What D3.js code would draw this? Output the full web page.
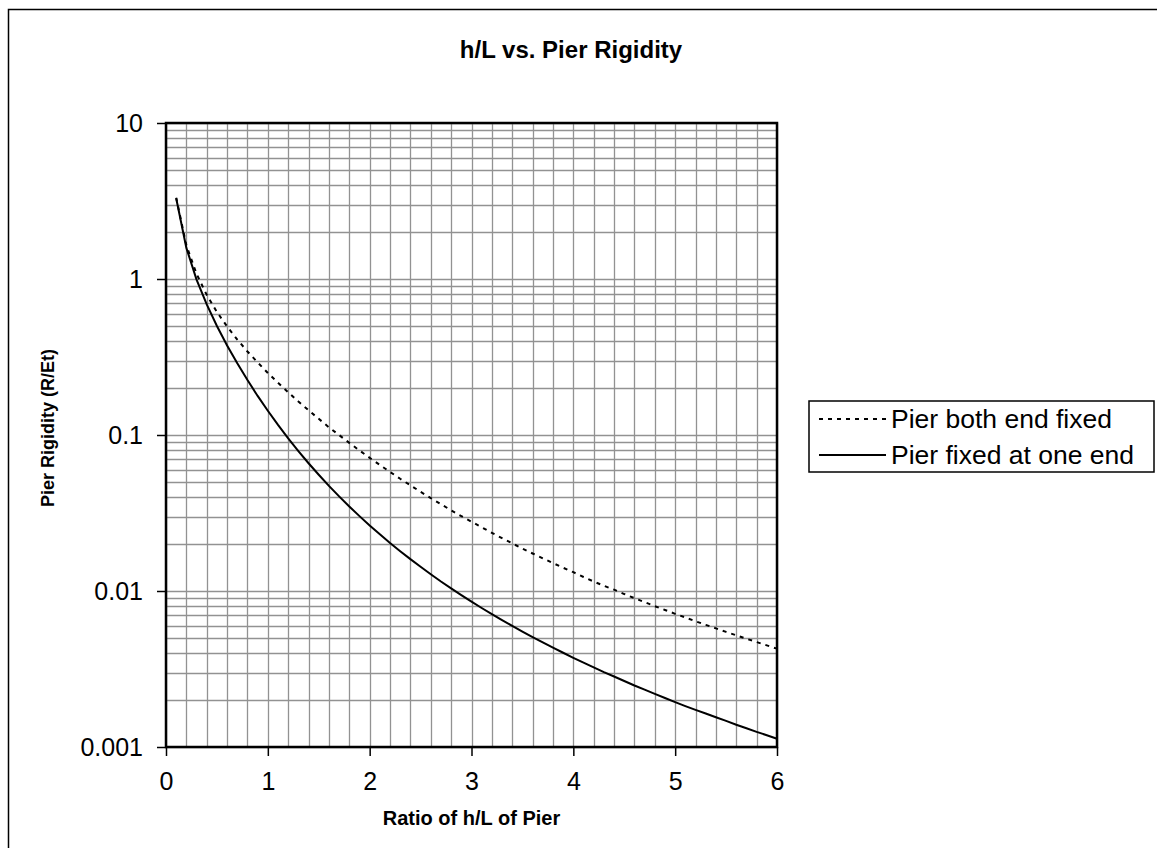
<!DOCTYPE html>
<html>
<head>
<meta charset="utf-8">
<script src="https://cdn.jsdelivr.net/npm/d3@7"></script>
<style>
  body { margin: 0; background: #fff; }
  text { font-family: "Liberation Sans", Arial, sans-serif; fill: #000; }
</style>
</head>
<body>
<div id="chart"></div>
<script>
// h/L of the pier
var ratio = [0.1, 0.2, 0.3, 0.4, 0.5, 0.6, 0.7, 0.8, 0.9, 1.0,
             1.1, 1.2, 1.3, 1.4, 1.5, 1.6, 1.7, 1.8, 1.9, 2.0,
             2.1, 2.2, 2.3, 2.4, 2.5, 2.6, 2.7, 2.8, 2.9, 3.0,
             3.1, 3.2, 3.3, 3.4, 3.5, 3.6, 3.7, 3.8, 3.9, 4.0,
             4.1, 4.2, 4.3, 4.4, 4.5, 4.6, 4.7, 4.8, 4.9, 5.0,
             5.1, 5.2, 5.3, 5.4, 5.5, 5.6, 5.7, 5.8, 5.9, 6.0];

// R/Et, pier fixed at both ends
var bothFixed = [3.32, 1.645, 1.079, 0.791, 0.615, 0.496, 0.409, 0.343, 0.292, 0.25,
                 0.216, 0.188, 0.164, 0.144, 0.127, 0.112, 0.0999, 0.089, 0.0796, 0.0714,
                 0.0643, 0.058, 0.0524, 0.0476, 0.0432, 0.0394, 0.036, 0.0329, 0.0302, 0.0278,
                 0.0256, 0.0236, 0.0218, 0.0202, 0.0187, 0.0174, 0.0162, 0.0151, 0.0141, 0.0132,
                 0.0123, 0.0115, 0.0108, 0.0102, 0.00956, 0.009, 0.00848, 0.008, 0.00756, 0.00714,
                 0.00676, 0.0064, 0.00607, 0.00576, 0.00547, 0.0052, 0.00494, 0.00471, 0.00448, 0.00427];

// R/Et, pier fixed at one end (cantilever)
var oneFixed = [3.29, 1.582, 0.992, 0.687, 0.5, 0.375, 0.288, 0.225, 0.178, 0.143,
                0.116, 0.0951, 0.0788, 0.0659, 0.0556, 0.0472, 0.0404, 0.0348, 0.0302, 0.0263,
                0.0231, 0.0203, 0.018, 0.016, 0.0143, 0.0128, 0.0115, 0.0104, 0.00941, 0.00855,
                0.00778, 0.00711, 0.00651, 0.00597, 0.00549, 0.00507, 0.00468, 0.00433, 0.00402, 0.00373,
                0.00347, 0.00324, 0.00302, 0.00283, 0.00265, 0.00248, 0.00233, 0.00219, 0.00206, 0.00194,
                0.00183, 0.00173, 0.00164, 0.00155, 0.00147, 0.00139, 0.00132, 0.00125, 0.00119, 0.00113];

var seriesNames = ["Pier both end fixed", "Pier fixed at one end"];
var xTicks = [0, 1, 2, 3, 4, 5, 6];
var yTicks = [0.001, 0.01, 0.1, 1, 10];
var yTickLabels = ["0.001", "0.01", "0.1", "1", "10"];

var width = 1157, height = 848;
var plot = { left: 166, right: 777, top: 123, bottom: 747 };

var svg = d3.select("#chart").append("svg")
  .attr("width", width)
  .attr("height", height);

// chart area frame (cut off at right and bottom like the original)
svg.append("rect")
  .attr("x", 8.5).attr("y", 9.5)
  .attr("width", 1170).attr("height", 860)
  .attr("fill", "#fff")
  .attr("stroke", "#000").attr("stroke-width", 1.5);

var x = d3.scaleLinear().domain([0, 6]).range([plot.left, plot.right]);
var y = d3.scaleLog().domain([0.001, 10]).range([plot.bottom, plot.top]);

// grid: every 0.2 on x, 1..9 per decade on y
var grid = svg.append("g").attr("class", "grid");
grid.selectAll(".vgrid")
  .data(x.ticks(30))
  .enter().append("line")
  .attr("x1", (d) => Math.round(x(d)) + 0.5).attr("x2", (d) => Math.round(x(d)) + 0.5)
  .attr("y1", plot.top).attr("y2", plot.bottom)
  .attr("stroke", "#929292").attr("stroke-width", 1.3);
grid.selectAll(".hgrid")
  .data(y.ticks())
  .enter().append("line")
  .attr("x1", plot.left).attr("x2", plot.right)
  .attr("y1", (d) => Math.round(y(d)) + 0.5).attr("y2", (d) => Math.round(y(d)) + 0.5)
  .attr("stroke", "#929292").attr("stroke-width", 1.3);

// axes
var xAxis = d3.axisBottom(x).tickValues(xTicks).tickFormat(d3.format("d"))
  .tickSize(9).tickPadding(16);
var yAxis = d3.axisLeft(y).tickValues(yTicks)
  .tickFormat((d, i) => yTickLabels[i]).tickSize(9).tickPadding(14);

var gx = svg.append("g")
  .attr("transform", "translate(0," + plot.bottom + ")")
  .call(xAxis);
var gy = svg.append("g")
  .attr("transform", "translate(" + plot.left + ",0)")
  .call(yAxis);

[gx, gy].forEach(function(g) {
  g.select(".domain").remove();
  g.selectAll(".tick line").attr("stroke", "#000").attr("stroke-width", 1.5);
  g.selectAll(".tick text").attr("font-size", 25)
    .attr("font-family", "'Liberation Sans', Arial, sans-serif");
});

// plot border
svg.append("rect")
  .attr("x", plot.left).attr("y", plot.top)
  .attr("width", plot.right - plot.left).attr("height", plot.bottom - plot.top)
  .attr("fill", "none").attr("stroke", "#000").attr("stroke-width", 2.5);

// series
var line = d3.line()
  .x((d) => x(d[0]))
  .y((d) => y(d[1]));

var series = [
  { name: seriesNames[0], values: d3.zip(ratio, bothFixed), dash: "4,5" },
  { name: seriesNames[1], values: d3.zip(ratio, oneFixed), dash: null }
];

svg.selectAll(".series")
  .data(series)
  .enter().append("path")
  .attr("class", "series")
  .attr("d", (d) => line(d.values))
  .attr("fill", "none")
  .attr("stroke", "#000")
  .attr("stroke-width", 2)
  .attr("stroke-dasharray", (d) => d.dash);

// titles
svg.append("text")
  .attr("x", 571).attr("y", 58)
  .attr("text-anchor", "middle")
  .attr("font-size", 24).attr("font-weight", "bold")
  .text("h/L vs. Pier Rigidity");

svg.append("text")
  .attr("x", (plot.left + plot.right) / 2).attr("y", 825)
  .attr("text-anchor", "middle")
  .attr("font-size", 20).attr("font-weight", "bold")
  .text("Ratio of h/L of Pier");

svg.append("text")
  .attr("transform", "translate(54," + 428 + ") rotate(-90)")
  .attr("text-anchor", "middle")
  .attr("font-size", 18).attr("font-weight", "bold")
  .text("Pier Rigidity (R/Et)");

// legend
var legend = svg.append("g").attr("transform", "translate(809,401)");
legend.append("rect")
  .attr("width", 345).attr("height", 71)
  .attr("fill", "#fff").attr("stroke", "#000").attr("stroke-width", 1.5);

var item = legend.selectAll(".item")
  .data(series)
  .enter().append("g")
  .attr("transform", (d, i) => "translate(0," + (18 + i * 36) + ")");
item.append("line")
  .attr("x1", 10).attr("x2", 77)
  .attr("stroke", "#000").attr("stroke-width", 2)
  .attr("stroke-dasharray", (d) => d.dash);
item.append("text")
  .attr("x", 82).attr("dy", "0.35em")
  .attr("font-size", 26.5)
  .text((d) => d.name);
</script>
</body>
</html>
